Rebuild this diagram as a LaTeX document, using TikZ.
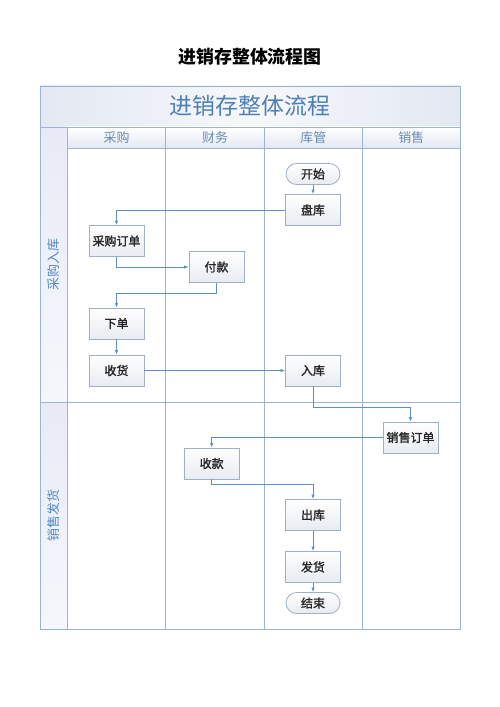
\documentclass[tikz,border=0pt]{standalone}
\usepackage{fontspec}
\setmainfont{Noto Sans CJK SC}
\newfontfamily\nodefont[FakeBold=1.6]{Noto Sans CJK SC}
\usetikzlibrary{arrows.meta}
\definecolor{frameline}{HTML}{9DB3D2}
\definecolor{titleblue}{HTML}{4F7FB8}
\definecolor{headblue}{HTML}{6A8BB5}
\definecolor{lanelab}{HTML}{5387C6}
\definecolor{arrowc}{HTML}{5D8FC9}
\definecolor{nodeline}{HTML}{9FB0C6}
\definecolor{nodefill}{HTML}{E8EBF0}
\definecolor{barside}{HTML}{E3E8F2}
\definecolor{barmid}{HTML}{F6F8FB}
\definecolor{headbot}{HTML}{E2E8F2}
\definecolor{lanetop}{HTML}{E8EBF7}
\definecolor{lanebot}{HTML}{F6F7FC}
\tikzset{
  frm/.style={draw=frameline, line width=0.9bp},
  box/.style={draw=nodeline, line width=0.8bp, top color=white, bottom color=nodefill,
    minimum width=55bp, minimum height=31bp, inner sep=0pt,
    font=\nodefont\fontsize{12}{12}\selectfont, text=black!85},
  term/.style={box, rounded corners=10.5bp, minimum height=21bp, minimum width=54bp},
  arr/.style={draw=arrowc, line width=0.8bp, -{Latex[length=4.5bp,width=3.5bp]}},
  headtxt/.style={font=\fontsize{13}{13}\selectfont, text=headblue},
  lanetxt/.style={font=\fontsize{13}{13}\selectfont, text=lanelab, rotate=90}
}
\begin{document}
\begin{tikzpicture}[x=1bp,y=-1bp]
\useasboundingbox (0,0) rectangle (500,707);
\fill[white] (0,0) rectangle (500,707);
% main title
\node[font=\fontsize{18}{18}\selectfont\bfseries, text=black] (maintitle) at (250,57) {进销存整体流程图};
% title bar
\shade[left color=barside, right color=barside, middle color=barmid] (40,86) rectangle (460,127);
% header cells
\foreach \a/\b in {67.3/165.7,165.7/264.3,264.3/362.3,362.3/460}{
  \shade[top color=white, bottom color=headbot] (\a,127) rectangle (\b,148);
}
% left lane cells
\shade[top color=lanetop, bottom color=lanebot] (40,127) rectangle (67.3,402);
\shade[top color=lanetop, bottom color=lanebot] (40,402) rectangle (67.3,629);
% frame lines
\draw[frm] (40,127) -- (460,127);
\draw[frm] (67.3,148) -- (460,148);
\draw[frm] (40,402) -- (460,402);
\foreach \x in {67.3,165.7,264.3,362.3}{ \draw[frm] (\x,127) -- (\x,629); }
\draw[frm] (40,86) rectangle (460,629);
% texts
\node[font=\fontsize{23}{23}\selectfont, text=titleblue] (bartitle) at (250,106) {进销存整体流程};
\node[headtxt] (h1) at (116.5,137.5) {采购};
\node[headtxt] (h2) at (215,137.5) {财务};
\node[headtxt] (h3) at (313.3,137.5) {库管};
\node[headtxt] (h4) at (411.2,137.5) {销售};
\node[lanetxt] (l1) at (54,264.5) {采购入库};
\node[lanetxt] (l2) at (54,515.5) {销售发货};
% nodes
\node[term] (ks) at (313,174) {开始};
\node[box] (pk) at (313,210) {盘库};
\node[box] (cgdd) at (116.5,241) {采购订单};
\node[box] (fk) at (216.5,267) {付款};
\node[box] (xd) at (116.5,323.5) {下单};
\node[box] (sh) at (116.5,370.5) {收货};
\node[box] (rk) at (313,370.5) {入库};
\node[box] (xsdd) at (410.5,437.5) {销售订单};
\node[box] (sk) at (211.7,463.5) {收款};
\node[box] (ck) at (313,515) {出库};
\node[box] (fh) at (313,567) {发货};
\node[term] (js) at (313,603) {结束};
% connectors
\draw[arr] (ks) -- (pk);
\draw[arr] (pk.west) -| (cgdd.north);
\draw[arr] (cgdd.south) |- (fk.west);
\draw[arr] (fk.south) -- ++(0,10.5) -| (xd.north);
\draw[arr] (xd) -- (sh);
\draw[arr] (sh) -- (rk);
\draw[arr] (rk.south) -- ++(0,20.5) -| (xsdd.north);
\draw[arr] (xsdd.west) -| (sk.north);
\draw[arr] (sk.south) -- ++(0,5) -| (ck.north);
\draw[arr] (ck) -- (fh);
\draw[arr] (fh) -- (js);
\end{tikzpicture}
\end{document}
